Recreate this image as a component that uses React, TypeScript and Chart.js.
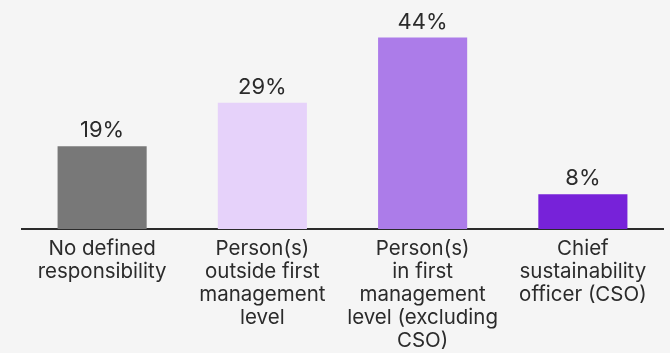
import React, { useEffect, useRef } from "react";
import { Chart, registerables } from "chart.js";

Chart.register(...registerables);

const categories: string[][] = [
  ["No defined", "responsibility"],
  ["Person(s)", "outside first", "management", "level"],
  ["Person(s)", "in first", "management", "level (excluding", "CSO)"],
  ["Chief", "sustainability", "officer (CSO)"],
];
const values: number[] = [19, 29, 44, 8];
const barColors: string[] = ["#787878", "#e6d2fa", "#ac7ce9", "#7722d9"];

const FONT = "Inter, 'Noto Sans', sans-serif";
const TEXT = "#2b2b2b";

const valueLabels = {
  id: "valueLabels",
  afterDatasetsDraw(chart: any) {
    const ctx = chart.ctx;
    const meta = chart.getDatasetMeta(0);
    ctx.save();
    ctx.font = `400 22px ${FONT}`;
    ctx.fillStyle = TEXT;
    ctx.textAlign = "center";
    ctx.textBaseline = "alphabetic";
    meta.data.forEach((bar: any, i: number) => {
      ctx.fillText(`${values[i]}%`, bar.x, bar.y - 9);
    });
    ctx.restore();
  },
};

export default function App() {
  const ref = useRef<HTMLCanvasElement>(null);
  useEffect(() => {
    document.body.style.margin = "0";
    document.body.style.background = "#f5f5f5";
    const chart = new Chart(ref.current!, {
      type: "bar",
      data: {
        labels: categories,
        datasets: [
          {
            data: values,
            backgroundColor: barColors,
            barPercentage: 0.556,
            categoryPercentage: 1,
          },
        ],
      },
      options: {
        animation: false,
        responsive: false,
        maintainAspectRatio: false,
        layout: { padding: { left: 22, right: 7, top: 11.5, bottom: 0 } },
        plugins: { legend: { display: false }, tooltip: { enabled: false } },
        scales: {
          y: { display: false, min: 0, max: 50 },
          x: {
            grid: { display: false, drawTicks: false },
            border: { display: true, color: "#2b2b2b", width: 2 },
            ticks: {
              color: TEXT,
              font: { family: FONT, size: 20.5, lineHeight: 1.13 },
              padding: 8,
              maxRotation: 0,
              autoSkip: false,
            },
            afterFit: (scale: any) => {
              scale.height = 124;
            },
          },
        },
      },
      plugins: [valueLabels],
    });
    return () => chart.destroy();
  }, []);
  return (
    <div style={{ width: 670, height: 353, background: "#f5f5f5" }}>
      <canvas ref={ref} width={670} height={353} />
    </div>
  );
}
